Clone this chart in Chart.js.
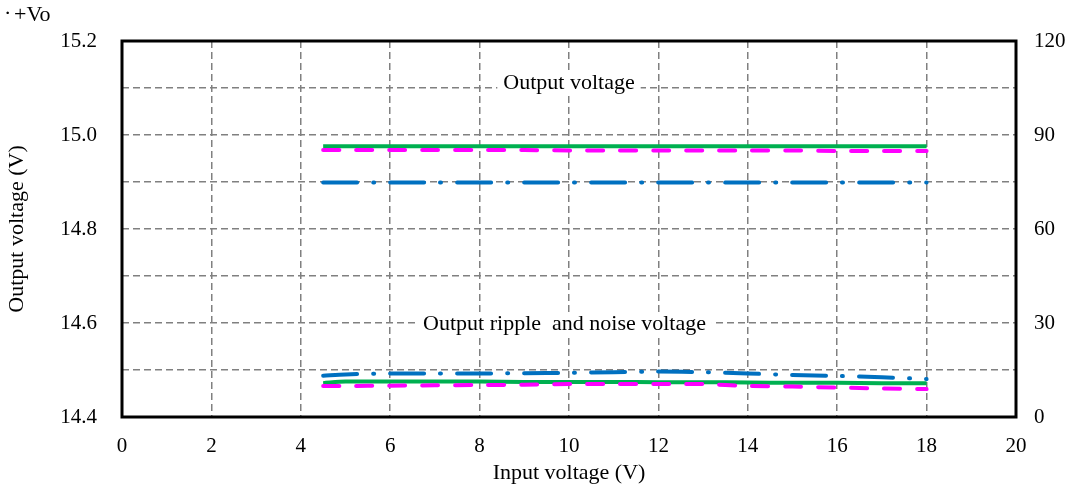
<!DOCTYPE html>
<html>
<head>
<meta charset="utf-8">
<script src="https://cdn.jsdelivr.net/npm/chart.js@4/dist/chart.umd.min.js"></script>
<style>
  html, body { margin: 0; padding: 0; background: #fff; }
  #wrap { position: relative; width: 1070px; height: 500px; }
</style>
</head>
<body>
<div id="wrap"><canvas id="vo" width="1070" height="500"></canvas></div>
<script>
// input voltage points (V)
const inputV = [4.5, 5, 6, 7, 8, 9, 10, 11, 12, 13, 14, 15, 16, 17, 18];

// output voltage curves (left axis, V)
const voGreen = [14.976, 14.976, 14.976, 14.976, 14.976, 14.976, 14.976, 14.976, 14.976, 14.976, 14.976, 14.976, 14.976, 14.976, 14.976];
const voMagenta = [14.968, 14.968, 14.968, 14.968, 14.968, 14.968, 14.967, 14.967, 14.967, 14.967, 14.967, 14.967, 14.966, 14.966, 14.966];
const voBlue = [14.899, 14.899, 14.899, 14.899, 14.899, 14.899, 14.899, 14.899, 14.899, 14.899, 14.899, 14.899, 14.899, 14.899, 14.899];

// ripple and noise curves (right axis, mV)
const rippleGreen = [10.8, 11.3, 11.3, 11.3, 11.3, 11.2, 11.2, 11.2, 11.1, 11.1, 11.0, 10.9, 10.9, 10.8, 10.8];
const rippleMagenta = [9.9, 9.9, 10.0, 10.1, 10.2, 10.3, 10.5, 10.5, 10.5, 10.5, 9.9, 9.7, 9.4, 9.1, 8.9];
const rippleBlue = [13.2, 13.6, 13.9, 13.9, 13.9, 14.0, 14.1, 14.3, 14.5, 14.3, 13.9, 13.4, 13.1, 12.7, 12.1];

const green = "#00B050";
const magenta = "#FF00FF";
const blue = "#0070C0";
const serif = "'Liberation Serif', 'Times New Roman', serif";

function pts(ys) {
  return inputV.map((x, i) => ({ x: x, y: ys[i] }));
}

function line(ys, color, dash, axis) {
  return {
    data: pts(ys),
    yAxisID: axis,
    borderColor: color,
    borderWidth: 4,
    borderDash: dash,
    borderCapStyle: dash.length ? "round" : "butt",
    pointRadius: 0,
    tension: 0.3,
    fill: false,
  };
}

const dashDot = [34, 16, 1, 16];

// labels inside the plot + frame + corner caption
const extras = {
  id: "extras",
  afterDatasetsDraw(chart) {
    const { ctx, chartArea: a, scales } = chart;
    ctx.save();
    ctx.font = "22px " + serif;
    ctx.textAlign = "center";
    ctx.textBaseline = "middle";
    const notes = [
      { text: "Output voltage", x: 10, y: 15.11 },
      { text: "Output ripple  and noise voltage", x: 9.9, y: 14.598 },
    ];
    notes.forEach((n) => {
      const px = scales.x.getPixelForValue(n.x);
      const py = scales.y.getPixelForValue(n.y);
      const w = ctx.measureText(n.text).width;
      ctx.fillStyle = "#fff";
      ctx.fillRect(px - w / 2 - 6, py - 11, w + 12, 22);
      ctx.fillStyle = "#000";
      ctx.fillText(n.text, px, py);
    });
    ctx.strokeStyle = "#000";
    ctx.lineWidth = 3;
    ctx.strokeRect(a.left, a.top, a.right - a.left, a.bottom - a.top);
    ctx.textAlign = "left";
    ctx.fillText("\u00b7", 4, 14);
    ctx.fillText("+Vo", 14, 15);
    ctx.restore();
  },
};

const grid = {
  color: "#808080",
  lineWidth: 1.5,
  drawTicks: false,
};

const tickFont = { family: serif, size: 21 };
const titleFont = { family: serif, size: 22 };

new Chart(document.getElementById("vo"), {
  type: "line",
  data: {
    datasets: [
      line(voBlue, blue, dashDot, "y"),
      line(voMagenta, magenta, [16, 17], "y"),
      line(voGreen, green, [], "y"),
      line(rippleBlue, blue, dashDot, "y1"),
      line(rippleMagenta, magenta, [16, 17], "y1"),
      line(rippleGreen, green, [], "y1"),
    ],
  },
  plugins: [extras],
  options: {
    responsive: false,
    animation: false,
    layout: { padding: { top: 41, left: 0, right: 0, bottom: 0 } },
    plugins: { legend: { display: false }, tooltip: { enabled: false } },
    scales: {
      x: {
        type: "linear",
        min: 0,
        max: 20,
        ticks: { stepSize: 2, color: "#000", padding: 17, font: tickFont },
        grid: grid,
        border: { display: false, dash: [7, 4] },
        title: { display: true, text: "Input voltage (V)", color: "#000", font: titleFont, padding: { top: 4, bottom: 14 } },
        afterFit(s) { s.height = 83; },
      },
      y: {
        position: "left",
        min: 14.4,
        max: 15.2,
        ticks: { stepSize: 0.1, color: "#000", padding: 25, font: tickFont,
          callback: (v) => (Math.round(v * 10) % 2 === 0 ? v.toFixed(1) : "") },
        grid: grid,
        border: { display: false, dash: [7, 4] },
        title: { display: true, text: "Output voltage (V)", color: "#000", font: titleFont, padding: { top: 4 } },
        afterFit(s) { s.width = 122; },
      },
      y1: {
        position: "right",
        min: 0,
        max: 120,
        ticks: { stepSize: 30, color: "#000", padding: 10, font: tickFont },
        grid: { display: false },
        border: { display: false },
        afterFit(s) { s.width = 54; },
      },
    },
  },
});
</script>
</body>
</html>
